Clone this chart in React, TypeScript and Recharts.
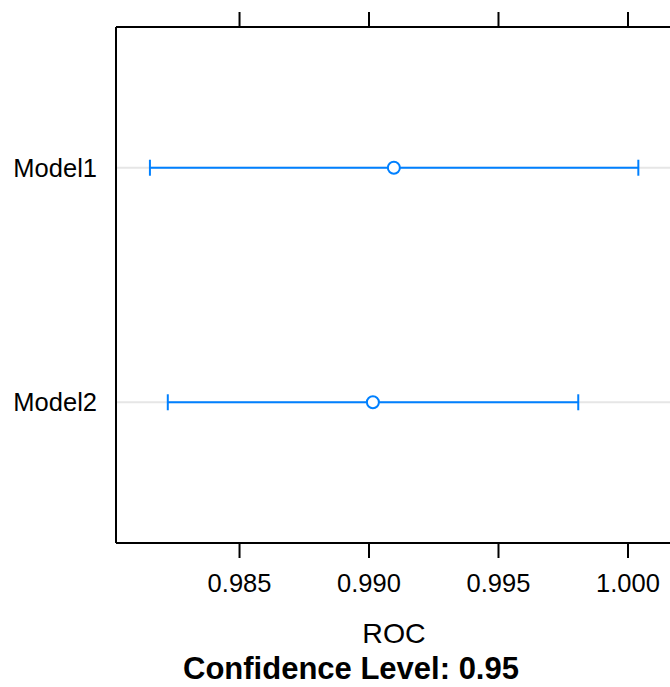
import React from 'react';
import { ScatterChart, Scatter, XAxis, YAxis, CartesianGrid, ErrorBar } from 'recharts';

const models = ['Model1', 'Model2'];
const rocMean = [0.99096, 0.99015];
const rocLower = [0.98154, 0.98223];
const rocUpper = [1.0004, 0.99808];
const xTicks = [0.985, 0.99, 0.995, 1.0];
const xDomain = [0.98023, 1.0017];
const xTitle = 'ROC';
const subTitle = 'Confidence Level: 0.95';

const data = models.map((m, i) => ({
  name: m,
  pos: i + 1,
  roc: rocMean[i],
  err: [rocMean[i] - rocLower[i], rocUpper[i] - rocMean[i]],
}));

const FONT = '"Liberation Sans", Arial, Helvetica, sans-serif';
const BLUE = '#0080ff';

const PointShape = (props: any) => (
  <circle cx={props.cx} cy={props.cy} r={6} fill="#ffffff" stroke={BLUE} strokeWidth={2} />
);

const BottomTitles = (props: any) => {
  const vb = props.viewBox || { x: 116, y: 543, width: 556, height: 144 };
  return (
    <g>
      <text x={vb.x + vb.width / 2} y={vb.y + 100} textAnchor="middle" fontFamily={FONT} fontSize={28.5} fill="#000">
        {xTitle}
      </text>
      <text x={351} y={vb.y + 136} textAnchor="middle" fontFamily={FONT} fontSize={31} fontWeight="bold" fill="#000">
        {subTitle}
      </text>
    </g>
  );
};

export default function App() {
  return (
    <div style={{ position: 'absolute', left: 0, top: 0, width: 670, height: 687, overflow: 'hidden', background: '#fff' }}>
      <ScatterChart width={700} height={687} margin={{ top: 0, right: 28, bottom: 0, left: 0 }}>
        <CartesianGrid xAxisId="b" vertical={false} horizontal={true} stroke="#e6e6e6" strokeWidth={2} />
        <XAxis
          xAxisId="t"
          orientation="top"
          type="number"
          dataKey="roc"
          domain={xDomain}
          ticks={xTicks}
          allowDataOverflow
          height={27}
          tickSize={15}
          axisLine={{ stroke: '#000', strokeWidth: 2 }}
          tickLine={{ stroke: '#000', strokeWidth: 2 }}
          tickFormatter={() => ''}
        />
        <XAxis
          xAxisId="b"
          orientation="bottom"
          type="number"
          dataKey="roc"
          domain={xDomain}
          ticks={xTicks}
          allowDataOverflow
          height={144}
          tickSize={15}
          tickMargin={16}
          axisLine={{ stroke: '#000', strokeWidth: 2 }}
          tickLine={{ stroke: '#000', strokeWidth: 2 }}
          tick={{ fill: '#000', fontSize: 25.5, fontFamily: FONT }}
          tickFormatter={(v: number) => v.toFixed(3)}
          label={{ content: BottomTitles }}
        />
        <YAxis
          type="number"
          dataKey="pos"
          domain={[0.4, 2.6]}
          ticks={[1, 2]}
          reversed
          allowDataOverflow
          width={116}
          tickSize={0}
          tickMargin={19}
          tickLine={false}
          axisLine={{ stroke: '#000', strokeWidth: 2 }}
          tick={{ fill: '#000', fontSize: 25.5, fontFamily: FONT }}
          tickFormatter={(v: number) => models[v - 1] ?? ''}
        />
        <Scatter xAxisId="b" data={data} shape={PointShape} isAnimationActive={false}>
          <ErrorBar dataKey="err" direction="x" width={8} stroke={BLUE} strokeWidth={2} isAnimationActive={false} />
        </Scatter>
      </ScatterChart>
    </div>
  );
}
